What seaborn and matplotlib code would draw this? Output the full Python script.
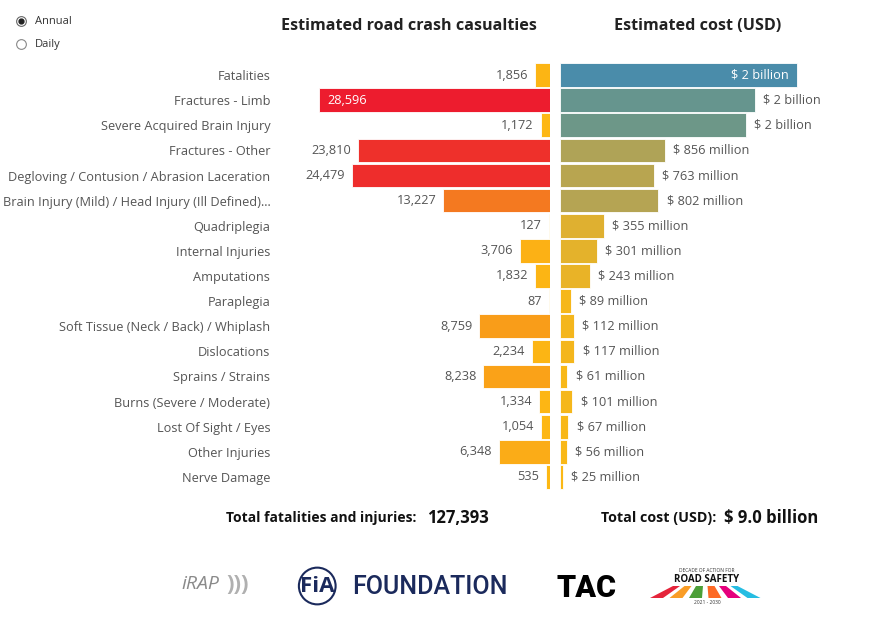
import matplotlib
matplotlib.use("Agg")
import matplotlib.pyplot as plt
import seaborn as sns
import pandas as pd
from matplotlib.colors import LinearSegmentedColormap, Normalize
from matplotlib.lines import Line2D
from matplotlib.patches import Polygon

# --- data ---
categories = [
    "Fatalities", "Fractures - Limb", "Severe Acquired Brain Injury",
    "Fractures - Other", "Degloving / Contusion / Abrasion Laceration",
    "Brain Injury (Mild) / Head Injury (Ill Defined)...", "Quadriplegia",
    "Internal Injuries", "Amputations", "Paraplegia",
    "Soft Tissue (Neck / Back) / Whiplash", "Dislocations", "Sprains / Strains",
    "Burns (Severe / Moderate)", "Lost Of Sight / Eyes", "Other Injuries",
    "Nerve Damage",
]
casualties = [1856, 28596, 1172, 23810, 24479, 13227, 127, 3706, 1832, 87,
              8759, 2234, 8238, 1334, 1054, 6348, 535]
cost_musd = [1932, 1589, 1515, 856, 763, 802, 355, 301, 243, 89,
             112, 117, 61, 101, 67, 56, 25]
total_casualties = "127,393"
total_cost = "$ 9.0 billion"

df = pd.DataFrame({"category": categories, "casualties": casualties, "cost": cost_musd})


def fmt_cost(v):
    if v >= 1000:
        return f"$ {v / 1000:.0f} billion"
    return f"$ {v:.0f} million"


FONT = ["Open Sans", "DejaVu Sans"]
sns.set_theme(style="white")
plt.rcParams["font.family"] = FONT
TXT = "#555555"

W, H = 879, 619
fig = plt.figure(figsize=(W / 100, H / 100), dpi=100)


def fx(px):
    return px / W


def fy(py):
    return 1 - py / H


top, bottom = fy(62.5), fy(489.5)
ax_l = fig.add_axes([fx(280), bottom, fx(270), top - bottom])
ax_r = fig.add_axes([fx(560), bottom, fx(300), top - bottom])

# colour scales (low -> high)
cmap_l = LinearSegmentedColormap.from_list(
    "cas", ["#FDB913", "#FBAA17", "#F37021", "#EE3A2A", "#ED1C2E"])
cmap_r = LinearSegmentedColormap.from_list(
    "cost", [(0, "#FDB913"), (0.15, "#E5B22B"), (0.42, "#B4A454"),
             (0.8, "#6A968A"), (1, "#4A8CAA")])
pal_l = [cmap_l(Normalize(0, max(casualties))(v)) for v in casualties]
pal_r = [cmap_r(Normalize(0, max(cost_musd))(v)) for v in cost_musd]

sns.barplot(data=df, y="category", x="casualties", hue="category",
            palette=pal_l, legend=False, width=0.94, ax=ax_l,
            edgecolor="white", linewidth=0.6, saturation=1)
sns.barplot(data=df, y="category", x="cost", hue="category",
            palette=pal_r, legend=False, width=0.94, ax=ax_r,
            edgecolor="white", linewidth=0.6, saturation=1)

ax_l.set_xlim(33430, 0)
ax_r.set_xlim(0, 2445)

for ax in (ax_l, ax_r):
    ax.set_xlabel("")
    ax.set_ylabel("")
    ax.set_xticks([])
    sns.despine(ax=ax, left=True, bottom=True)
    ax.grid(False)

ax_l.tick_params(axis="y", length=0, pad=7, labelsize=9.2, labelcolor=TXT)
ax_r.set_yticks([])

# value labels
vmax = max(casualties)
for i, v in enumerate(casualties):
    if v == vmax:
        ax_l.annotate(f"{v:,}", (v, i), xytext=(6, 0), textcoords="offset points",
                      ha="left", va="center", color="white", fontsize=9.2)
    else:
        ax_l.annotate(f"{v:,}", (v, i), xytext=(-5, 0), textcoords="offset points",
                      ha="right", va="center", color=TXT, fontsize=9.2)

cmax = max(cost_musd)
for i, v in enumerate(cost_musd):
    if v == cmax:
        ax_r.annotate(fmt_cost(v), (v, i), xytext=(-6, 0), textcoords="offset points",
                      ha="right", va="center", color="white", fontsize=9.2)
    else:
        ax_r.annotate(fmt_cost(v), (v, i), xytext=(6, 0), textcoords="offset points",
                      ha="left", va="center", color=TXT, fontsize=9.2)

# titles
fig.text(fx(409), fy(26), "Estimated road crash casualties", ha="center", va="center",
         fontsize=11.6, fontweight="bold", color="#222222")
fig.text(fx(698), fy(26), "Estimated cost (USD)", ha="center", va="center",
         fontsize=11.6, fontweight="bold", color="#222222")

# radio buttons
fig.add_artist(Line2D([fx(21)], [fy(21)], marker="o", ms=7, mfc="white",
                      mec="#666666", mew=0.8, transform=fig.transFigure))
fig.add_artist(Line2D([fx(21)], [fy(21)], marker="o", ms=3.5, mfc="#222222",
                      mec="#222222", transform=fig.transFigure))
fig.add_artist(Line2D([fx(21)], [fy(44)], marker="o", ms=7, mfc="white",
                      mec="#888888", mew=0.8, transform=fig.transFigure))
fig.text(fx(35), fy(21), "Annual", ha="left", va="center", fontsize=8, color="#333333")
fig.text(fx(35), fy(44), "Daily", ha="left", va="center", fontsize=8, color="#333333")

# totals
fig.text(fx(416), fy(518), "Total fatalities and injuries:", ha="right", va="center",
         fontsize=10, fontweight="bold", color="#111111")
fig.text(fx(427), fy(518), total_casualties, ha="left", va="center",
         fontsize=12, fontweight="bold", color="#111111")
fig.text(fx(716), fy(518), "Total cost (USD):", ha="right", va="center",
         fontsize=10.3, fontweight="bold", color="#111111")
fig.text(fx(724), fy(518), total_cost, ha="left", va="center",
         fontsize=12, fontweight="bold", color="#111111")

# logos (text approximations)
fig.text(fx(181), fy(584), "iRAP", ha="left", va="center", fontsize=14,
         color="#8a8a8a", style="italic")
fig.text(fx(226), fy(584), ")))", ha="left", va="center", fontsize=16,
         color="#b0b0b0", fontweight="bold")
fig.text(fx(300), fy(586), "FiA", ha="left", va="center", fontsize=16,
         color="#1b2a5c", fontweight="bold",
         bbox=dict(boxstyle="circle,pad=0.05", fc="white", ec="#1b2a5c", lw=1.5))
fig.text(fx(352), fy(587), "FOUNDATION", ha="left", va="center", fontsize=18,
         color="#1b2a5c", family=["Roboto", "DejaVu Sans"], fontweight="medium")
fig.text(fx(557), fy(588), "TAC", ha="left", va="center", fontsize=22,
         color="black", fontweight="heavy", family=["Roboto", "DejaVu Sans"])
fig.text(fx(707), fy(571), "DECADE OF ACTION FOR", ha="center", va="center",
         fontsize=3.5, color="#333333")
fig.text(fx(707), fy(579), "ROAD SAFETY", ha="center", va="center",
         fontsize=7, color="#111111", fontweight="bold")
fig.text(fx(707), fy(602), "2021 - 2030", ha="center", va="center",
         fontsize=3.5, color="#333333")
stripe_cols = ["#e5243b", "#f99d26", "#4c9f38", "#fd6925", "#e5007d", "#26bde2"]
for k, c in enumerate(stripe_cols):
    xb = 650 + k * 19.5
    xt = 673 + k * 11.5
    pts = [(xb, 598), (xb + 13, 598), (xt + 7, 586), (xt, 586)]
    fig.add_artist(Polygon([(fx(a), fy(b)) for a, b in pts], closed=True,
                           fc=c, ec="none", transform=fig.transFigure))

fig.savefig("out.png", dpi=100)
